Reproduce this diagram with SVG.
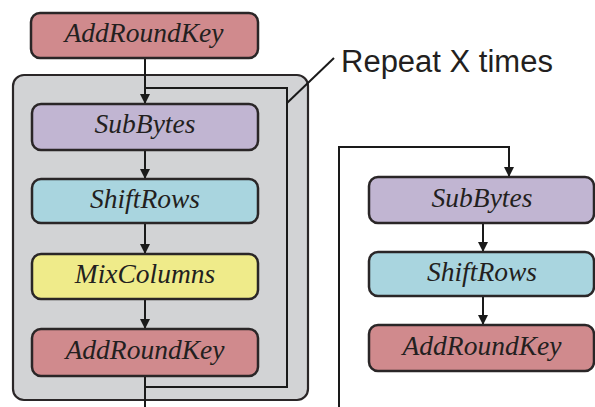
<svg xmlns="http://www.w3.org/2000/svg" width="595" height="407" viewBox="0 0 595 407">
  <defs>
    <marker id="arrow" viewBox="0 0 10 10" refX="10" refY="5" markerWidth="10" markerHeight="10" markerUnits="userSpaceOnUse" orient="auto">
      <path d="M0,0 L10,5 L0,10 z" fill="#1a1a1a"/>
    </marker>
    <style>
      .box { stroke: #2a2627; stroke-width: 2.5; }
      .ark { fill: #d08a8d; }
      .sub { fill: #c1b5d2; }
      .shr { fill: #a9d5df; }
      .mix { fill: #efeb8a; }
      .lbl { font-family: "Liberation Serif", "Times New Roman", serif; font-style: italic; font-size: 27.5px; fill: #231f20; text-anchor: middle; }
      .wire { fill: none; stroke: #1a1a1a; stroke-width: 2; }
      .note { font-family: "Liberation Sans", Arial, sans-serif; font-size: 31px; fill: #231f20; }
    </style>
  </defs>

  <!-- round container -->
  <g id="round">
    <rect x="13" y="75" width="295" height="325" rx="11" fill="#d2d3d5" stroke="#2a2627" stroke-width="2.2"/>
  </g>

  <!-- connectors -->
  <g id="connectors">
    <line class="wire" x1="145" y1="58" x2="145" y2="104" marker-end="url(#arrow)"/>
    <line class="wire" x1="145" y1="150" x2="145" y2="179" marker-end="url(#arrow)"/>
    <line class="wire" x1="145" y1="223" x2="145" y2="254" marker-end="url(#arrow)"/>
    <line class="wire" x1="145" y1="299" x2="145" y2="329" marker-end="url(#arrow)"/>
    <line class="wire" x1="145" y1="376" x2="145" y2="407"/>
    <!-- loop back path -->
    <polyline class="wire" points="145,88 287,88 287,387 145,387"/>
    <!-- leader to label -->
    <line class="wire" x1="287" y1="103" x2="334" y2="58"/>
    <!-- final round feed -->
    <polyline class="wire" points="339,407 339,147 509,147 509,177" marker-end="url(#arrow)"/>
    <line class="wire" x1="483" y1="223" x2="483" y2="252" marker-end="url(#arrow)"/>
    <line class="wire" x1="483" y1="296" x2="483" y2="325" marker-end="url(#arrow)"/>
  </g>

  <g id="initial-ark">
    <rect class="box ark" x="31" y="13" width="227" height="45" rx="9"/>
    <text class="lbl" x="144" y="42">AddRoundKey</text>
  </g>

  <g id="subbytes">
    <rect class="box sub" x="32" y="104" width="226" height="46" rx="9"/>
    <text class="lbl" x="145" y="133">SubBytes</text>
  </g>
  <g id="shiftrows">
    <rect class="box shr" x="32" y="179" width="226" height="44" rx="9"/>
    <text class="lbl" x="145" y="208">ShiftRows</text>
  </g>
  <g id="mixcolumns">
    <rect class="box mix" x="32" y="254" width="226" height="45" rx="9"/>
    <text class="lbl" x="145" y="283">MixColumns</text>
  </g>
  <g id="round-ark">
    <rect class="box ark" x="32" y="329" width="226" height="47" rx="9"/>
    <text class="lbl" x="145" y="359">AddRoundKey</text>
  </g>

  <g id="repeat-label">
    <text class="note" x="341" y="72">Repeat X times</text>
  </g>

  <g id="final-subbytes">
    <rect class="box sub" x="369" y="177" width="225" height="46" rx="9"/>
    <text class="lbl" x="482" y="207">SubBytes</text>
  </g>
  <g id="final-shiftrows">
    <rect class="box shr" x="369" y="252" width="225" height="44" rx="9"/>
    <text class="lbl" x="482" y="281">ShiftRows</text>
  </g>
  <g id="final-ark">
    <rect class="box ark" x="369" y="325" width="225" height="46" rx="9"/>
    <text class="lbl" x="482" y="355">AddRoundKey</text>
  </g>
</svg>
